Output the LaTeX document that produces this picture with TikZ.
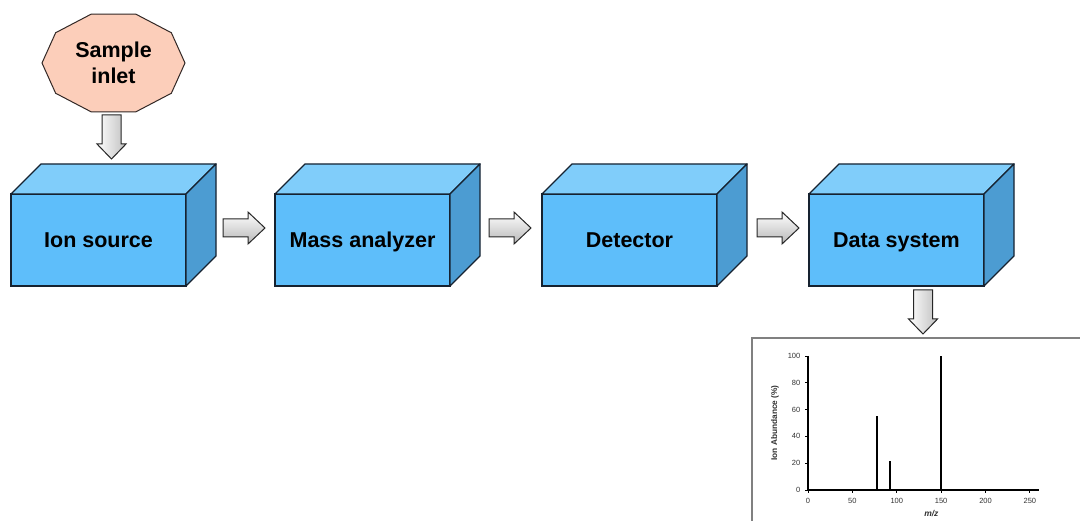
\documentclass[tikz,border=0pt]{standalone}
\usepackage{fontspec}
\setmainfont{Liberation Sans}
\usetikzlibrary{calc}
\definecolor{frontc}{RGB}{94,190,250}
\definecolor{topc}{RGB}{128,205,250}
\definecolor{sidec}{RGB}{76,156,210}
\definecolor{edgec}{RGB}{22,34,48}
\definecolor{peachc}{RGB}{252,206,186}
\definecolor{peachedge}{RGB}{50,40,38}
\definecolor{labc}{RGB}{50,50,50}
\newcommand{\rarrowat}[1]{\path[barrowh] (#1) ++(-21,-9) -- ++(25,0) -- ++(0,-7) -- ++(17,16) -- ++(-17,16) -- ++(0,-7) -- ++(-25,0) -- cycle;}
\newcommand{\darrowat}[1]{\path[barrowv] (#1) ++(-9.5,-22) -- ++(0,29) -- ++(-5,0) -- ++(14.5,15) -- ++(14.5,-15) -- ++(-5,0) -- ++(0,-29) -- cycle;}
\newcommand{\mybox}[1]{%
  \draw[topface] (#1.north west) -- ++(30,-30) -- ++(175,0) -- (#1.north east) -- cycle;
  \draw[sideface] (#1.north east) -- ++(30,-30) -- ++(0,92) -- (#1.south east) -- cycle;}
\begin{document}
\begin{tikzpicture}[x=1pt,y=-1pt,
  frontbox/.style={draw=edgec, line width=1.4pt, fill=frontc, minimum width=175pt,
    minimum height=92pt, inner sep=0pt, outer sep=0pt, text height=20pt, text depth=4.5pt,
    font=\fontsize{21.5}{25}\selectfont\bfseries},
  topface/.style={draw=edgec, line width=1.4pt, fill=topc, line join=round},
  sideface/.style={draw=edgec, line width=1.4pt, fill=sidec, line join=round},
  barrowh/.style={draw=black!85, line width=1pt, top color=white, bottom color=black!28},
  barrowv/.style={draw=black!85, line width=1pt, left color=white, right color=black!25},
  inletlab/.style={align=center, font=\fontsize{21.5}{25.5}\selectfont\bfseries, inner sep=0pt},
  decagon/.style={draw=peachedge, line width=1pt, fill=peachc},
  axisl/.style={draw=black, line width=1.1pt},
  tickl/.style={draw=black, line width=0.9pt},
  ticklab/.style={font=\fontsize{7.5}{9}\selectfont, text=labc, inner sep=0pt},
  peak/.style={draw=black, line width=1.9pt},
  framel/.style={draw=black!50, line width=1.5pt}
]
\useasboundingbox (0,0) rectangle (1080,521);
\fill[white] (0,0) rectangle (1080,521);

% sample inlet
\coordinate (inc) at (113.5,63);
\draw[decagon] ($(inc)+(0:71.5 and 51.5)$)
  \foreach \a in {36,72,...,324} { -- ($(inc)+(\a:71.5 and 51.5)$) } -- cycle;
\node[inletlab] (inlet) at (inc) {Sample\\inlet};

% boxes
\node[frontbox] (ion)  at (98.5,240)  {Ion source};
\node[frontbox] (mass) at (362.5,240) {Mass analyzer};
\node[frontbox] (det)  at (629.5,240) {Detector};
\node[frontbox] (data) at (896.5,240) {Data system};
\mybox{ion}\mybox{mass}\mybox{det}\mybox{data}

% arrows
\darrowat{$(ion.north)+(13,-57)$}
\rarrowat{$(ion.east)+(58,-12)$}
\rarrowat{$(mass.east)+(60,-12)$}
\rarrowat{$(det.east)+(61,-12)$}
\darrowat{$(data.south)+(26.5,26)$}

% chart frame
\draw[framel] (752,521) -- (752,338) -- (1080,338);

% chart
\begin{scope}[shift={(808,490)}, x=0.8876pt, y=1.34pt]
  \coordinate (orig) at (0,0);
  \foreach \v in {0,50,...,250} {
    \draw[tickl] (\v,0) -- ++(0pt,-3pt);
    \node[ticklab] at ($(\v,0)+(0pt,-10.5pt)$) {\v};
  }
  \foreach \v in {0,20,...,100} {
    \draw[tickl] (0,\v) -- ++(-3pt,0pt);
    \node[ticklab, anchor=east] at ($(0,\v)+(-7.5pt,0pt)$) {\v};
  }
  \draw[axisl] (0,100) -- (orig) -- (260,0);
  \draw[peak] (78,0) -- (78,55);
  \draw[peak] (92.5,0) -- (92.5,22);
  \draw[peak] (150,0) -- (150,100);
  \node[rotate=90, font=\fontsize{8.3}{10}\selectfont\bfseries, text=labc, inner sep=0pt]
    at ($(0,50)+(-33pt,0pt)$) {Ion Abundance (\%)};
  \node[font=\fontsize{8.5}{10}\selectfont\bfseries\itshape, text=labc, inner sep=0pt]
    at ($(139,0)+(0pt,-24pt)$) {m/z};
\end{scope}
\end{tikzpicture}
\end{document}
